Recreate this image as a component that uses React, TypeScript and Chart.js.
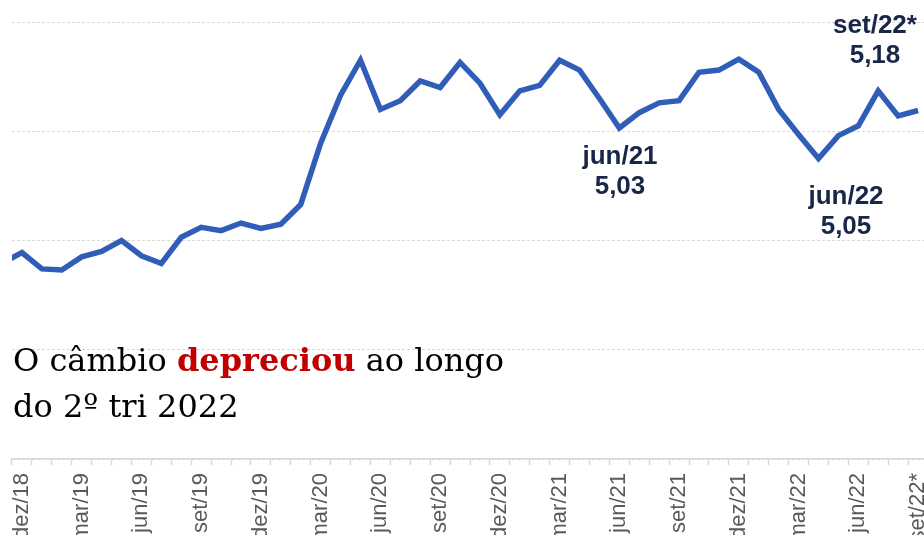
import React, { useEffect, useRef } from 'react';
import { Chart, registerables } from 'chart.js';

Chart.register(...registerables);

// Monthly BRL/USD (average), nov/18 is only there so the line enters from the left edge
const months = [
  'nov/18', 'dez/18',
  'jan/19', 'fev/19', 'mar/19', 'abr/19', 'mai/19', 'jun/19', 'jul/19', 'ago/19', 'set/19', 'out/19', 'nov/19', 'dez/19',
  'jan/20', 'fev/20', 'mar/20', 'abr/20', 'mai/20', 'jun/20', 'jul/20', 'ago/20', 'set/20', 'out/20', 'nov/20', 'dez/20',
  'jan/21', 'fev/21', 'mar/21', 'abr/21', 'mai/21', 'jun/21', 'jul/21', 'ago/21', 'set/21', 'out/21', 'nov/21', 'dez/21',
  'jan/22', 'fev/22', 'mar/22', 'abr/22', 'mai/22', 'jun/22', 'jul/22', 'ago/22', 'set/22*',
];

const rates = [
  3.79, 3.89,
  3.74, 3.73, 3.85, 3.90, 4.00, 3.86, 3.79, 4.03, 4.12, 4.09, 4.16, 4.11,
  4.15, 4.33, 4.89, 5.33, 5.65, 5.20, 5.28, 5.46, 5.40, 5.63, 5.44, 5.15,
  5.37, 5.42, 5.65, 5.56, 5.30, 5.03, 5.17, 5.26, 5.28, 5.54, 5.56, 5.66,
  5.54, 5.20, 4.97, 4.75, 4.96, 5.05, 5.37, 5.14, 5.19,
];

const firstShownMonth = 'dez/18';
const yMin = 2;
const yMax = 6;
const yStep = 1;

const callouts = [
  { month: 'jun/21', value: '5,03' },
  { month: 'jun/22', value: '5,05' },
  { month: 'set/22*', value: '5,18' },
];

const captionStart = 'O câmbio ';
const captionHighlight = 'depreciou';
const captionEnd = ' ao longo';
const captionLine2 = 'do 2º tri 2022';

// layout (styles only)
const calloutPos: Record<string, { cx: number; top: number }> = {
  'jun/21': { cx: 620, top: 140 },
  'jun/22': { cx: 846, top: 180 },
  'set/22*': { cx: 875, top: 9 },
};

export default function App() {
  const canvasRef = useRef<HTMLCanvasElement | null>(null);

  useEffect(() => {
    const canvas = canvasRef.current;
    if (!canvas) return;
    const firstIdx = months.indexOf(firstShownMonth);
    const chart = new Chart(canvas, {
      type: 'line',
      data: {
        labels: months,
        datasets: [
          {
            data: rates,
            borderColor: '#2f5db8',
            borderWidth: 5.5,
            pointRadius: 0,
            pointHoverRadius: 0,
            tension: 0,
            fill: false,
            clip: 0,
          },
        ],
      },
      options: {
        responsive: false,
        animation: false,
        devicePixelRatio: 1,
        layout: { padding: { left: 12, right: 12, top: 22, bottom: 0 } },
        plugins: {
          legend: { display: false },
          tooltip: { enabled: false },
          title: { display: false },
        },
        scales: {
          x: {
            type: 'category',
            min: firstShownMonth,
            offset: true,
            grid: {
              offset: true,
              drawOnChartArea: false,
              drawTicks: true,
              tickLength: 6,
              tickColor: '#d9d9d9',
              tickWidth: 1.5,
            },
            border: { display: true, color: '#d9d9d9', width: 1.5 },
            ticks: {
              autoSkip: false,
              minRotation: 90,
              maxRotation: 90,
              padding: 8,
              color: '#595959',
              font: { family: 'Liberation Sans', size: 22 },
              callback: function (this: any, value: any) {
                const idx = Number(value);
                return (idx - firstIdx) % 3 === 0 ? months[idx] : '';
              },
            },
            afterFit: (scale: any) => {
              scale.height = 101;
              scale.paddingLeft = 0;
              scale.paddingRight = 0;
            },
          },
          y: {
            min: yMin,
            max: yMax,
            ticks: { display: false, stepSize: yStep },
            border: { display: false, dash: [3, 2] },
            grid: {
              drawTicks: false,
              color: '#d9d9d9',
              lineWidth: 1,
            },
            afterFit: (scale: any) => {
              scale.width = 0;
              scale.paddingTop = 0;
              scale.paddingBottom = 0;
            },
          },
        },
      } as any,
    });
    return () => chart.destroy();
  }, []);

  const calloutStyle: React.CSSProperties = {
    position: 'absolute',
    width: 140,
    textAlign: 'center',
    fontFamily: '"Liberation Sans", Arial, sans-serif',
    fontWeight: 700,
    fontSize: 26,
    lineHeight: '30px',
    color: '#182747',
    whiteSpace: 'nowrap',
  };

  return (
    <div
      style={{
        position: 'fixed',
        left: 0,
        top: 0,
        width: 924,
        height: 535,
        overflow: 'hidden',
        background: '#ffffff',
      }}
    >
      <canvas
        ref={canvasRef}
        width={940}
        height={560}
        style={{ position: 'absolute', left: 0, top: 0, width: 940, height: 560 }}
      />
      {callouts.map((c) => {
        const p = calloutPos[c.month];
        return (
          <div key={c.month} style={{ ...calloutStyle, left: p.cx - 70, top: p.top }}>
            {c.month}
            <br />
            {c.value}
          </div>
        );
      })}
      <div
        style={{
          position: 'absolute',
          left: 13,
          top: 337,
          fontFamily: '"DejaVu Serif", serif',
          fontSize: 32,
          lineHeight: '46px',
          color: '#000000',
          whiteSpace: 'nowrap',
        }}
      >
        {captionStart}
        <b style={{ color: '#c00000' }}>{captionHighlight}</b>
        {captionEnd}
        <br />
        {captionLine2}
      </div>
    </div>
  );
}
